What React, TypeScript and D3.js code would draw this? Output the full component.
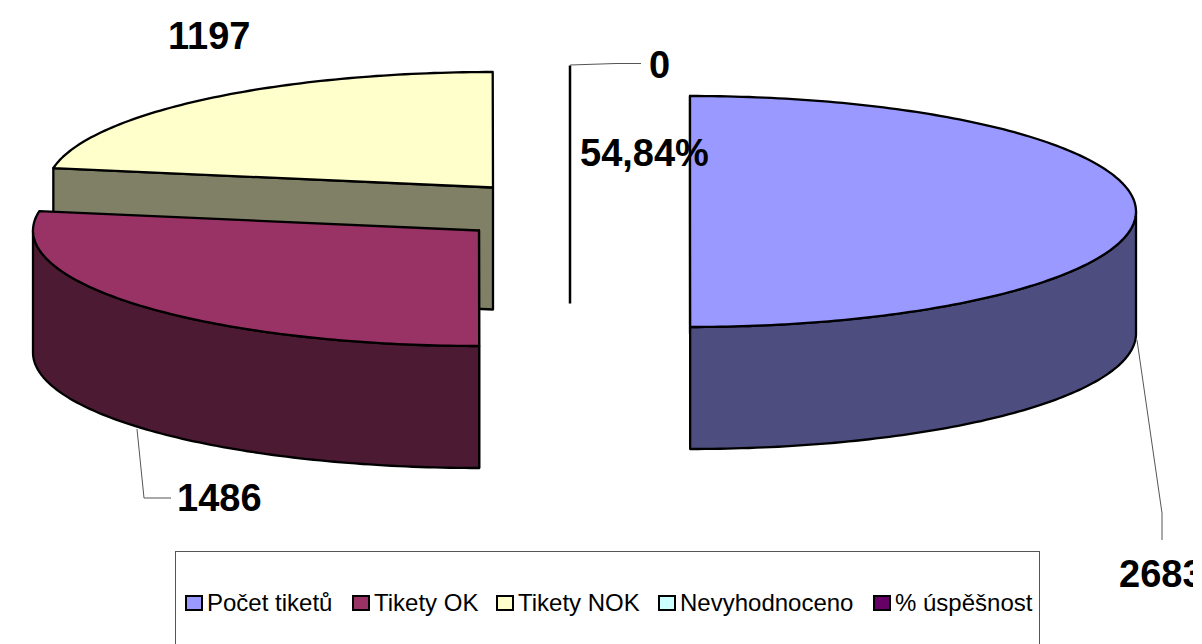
import React from 'react';
import * as d3 from 'd3';

const categories = ['Počet tiketů', 'Tikety OK', 'Tikety NOK', 'Nevyhodnoceno', '% úspěšnost'];
const values = [2683, 1486, 1197, 0, 0.5484];
const valueLabels = ['2683', '1486', '1197', '0', '54,84%'];
const topColors = ['#9999FF', '#993366', '#FFFFCC', '#CCFFFF', '#660066'];
const sideColors = ['#4D4D80', '#4D1A33', '#808066', '#668080', '#330033'];

const W = 1193;
const H = 644;
const RX = 446;
const RY = 115.5;
const DEPTH = 122;

// exploded centre of every slice (last slice is too thin to be seen)
const centres: [number, number][] = [
  [690, 211.5],
  [479, 230.5],
  [493, 187.5],
  [570, 181],
  [570, 181],
];

const legendX = d3.scaleOrdinal<string, number>().domain(categories).range([185, 352, 496, 658, 873]);

const pieGen = d3
  .pie<number>()
  .sort(null)
  .value((d) => d);
const arcs = pieGen(values);

const line = d3.line();

// point on the rim, angle clockwise from the top like d3.pie
const rim = (i: number, a: number, dy = 0): [number, number] => [
  centres[i][0] + RX * Math.sin(a),
  centres[i][1] - RY * Math.cos(a) + dy,
];

const sweep = (a0: number, a1: number) => {
  const n = Math.max(2, Math.ceil((a1 - a0) * 60));
  return d3.range(n + 1).map((k) => a0 + ((a1 - a0) * k) / n);
};

const topPath = (i: number) => {
  const { startAngle, endAngle } = arcs[i];
  return line([centres[i], ...sweep(startAngle, endAngle).map((a) => rim(i, a))]) + 'Z';
};

// outer wall: the part of the rim on the front half of the ellipse
const wallPath = (i: number) => {
  const a0 = Math.max(arcs[i].startAngle, Math.PI / 2);
  const a1 = Math.min(arcs[i].endAngle, (3 * Math.PI) / 2);
  if (a1 <= a0) return null;
  const angles = sweep(a0, a1);
  return (
    line([...angles.map((a) => rim(i, a)), ...angles.slice().reverse().map((a) => rim(i, a, DEPTH))]) + 'Z'
  );
};

// cut face from the centre out to the start of the slice
const facePath = (i: number) => {
  const p = rim(i, arcs[i].startAngle);
  const c = centres[i];
  return line([c, p, [p[0], p[1] + DEPTH], [c[0], c[1] + DEPTH]]) + 'Z';
};

const labelPos: [number, number][] = [
  [1119, 587],
  [177, 511],
  [168, 49],
  [649, 78],
  [580, 166],
];

const leaders: [number, number][][] = [
  [[1137, 340], [1162, 513], [1162, 540]],
  [[137, 429], [144, 498], [171, 498]],
  [],
  [[570, 65], [616, 63.5], [641, 63.5]],
  [],
];

const font = 'Liberation Sans, Arial, sans-serif';

const Slice = ({ i }: { i: number }) => {
  const wall = wallPath(i);
  return (
    <g stroke="#000" strokeWidth={2.3} strokeLinejoin="round">
      <path d={facePath(i)} fill={sideColors[i]} />
      {wall && <path d={wall} fill={sideColors[i]} />}
      <path d={topPath(i)} fill={topColors[i]} />
    </g>
  );
};

export default function App() {
  return (
    <svg
      width={W}
      height={H}
      style={{ position: 'absolute', left: 0, top: 0, display: 'block', background: '#fff', overflow: 'hidden' }}
      fontFamily={font}
    >
      {/* back to front */}
      <Slice i={2} />
      <line
        x1={centres[3][0]}
        x2={centres[3][0]}
        y1={centres[3][1] - RY}
        y2={centres[3][1] - RY + 238}
        stroke="#000"
        strokeWidth={2.5}
      />
      <Slice i={1} />
      <Slice i={0} />

      {leaders.map((pts, i) =>
        pts.length ? <path key={i} d={line(pts) as string} fill="none" stroke="#555" strokeWidth={1} /> : null
      )}

      {valueLabels.map((t, i) => (
        <text key={t} x={labelPos[i][0]} y={labelPos[i][1]} fontSize={38} fontWeight="bold" fill="#000">
          {t}
        </text>
      ))}

      <rect x={175.5} y={551.5} width={864} height={120} fill="#fff" stroke="#555" strokeWidth={1} />
      {categories.map((c, i) => (
        <g key={c}>
          <rect x={legendX(c) + 1} y={596} width={16} height={14} fill={topColors[i]} stroke="#000" strokeWidth={2} />
          <text x={legendX(c) + 22} y={611} fontSize={24} fill="#000">
            {c}
          </text>
        </g>
      ))}
    </svg>
  );
}
